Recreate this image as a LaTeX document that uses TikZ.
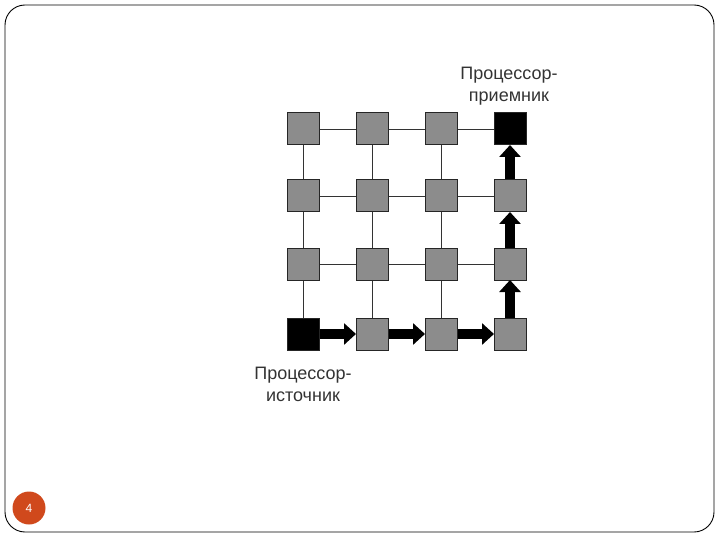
\documentclass[tikz,border=0pt]{standalone}
\usepackage{fontspec}
\setmainfont{Liberation Sans}
\usetikzlibrary{arrows.meta}
\definecolor{nodegray}{HTML}{8C8C8C}
\definecolor{pagenum}{HTML}{D0491C}
\definecolor{labelgray}{HTML}{333333}
\begin{document}
\begin{tikzpicture}[x=1pt,y=-1pt,
  cell/.style={draw=black!85,line width=1pt,fill=nodegray,minimum size=32pt,inner sep=0pt},
  endcell/.style={cell,fill=black},
  link/.style={draw=black!80,line width=0.8pt},
  route/.style={line width=10pt,-{Triangle[length=12pt,width=21pt]},shorten >=-0.5pt},
  lbl/.style={font=\fontsize{18}{22}\selectfont,text=labelgray,align=center,inner sep=0pt}]
\useasboundingbox (0,0) rectangle (720,540);
\draw[line width=0.9pt,rounded corners=20pt] (5,5) rectangle (714,532);
% grid
\foreach \c/\x in {1/303,2/372,3/441,4/510}{
  \foreach \r/\y in {1/129,2/196,3/264,4/334}{
    \node[cell] (n\c\r) at (\x,\y) {};
  }
}
\node[endcell] at (n14) {};
\node[endcell] at (n41) {};
% thin links
\foreach \r in {1,2,3}{
  \draw[link] (n1\r) -- (n2\r);
  \draw[link] (n2\r) -- (n3\r);
  \draw[link] (n3\r) -- (n4\r);
}
\foreach \c in {1,2,3}{
  \draw[link] (n\c1) -- (n\c2);
  \draw[link] (n\c2) -- (n\c3);
  \draw[link] (n\c3) -- (n\c4);
}
% route arrows
\draw[route] (n14.east) -- (n24.west);
\draw[route] (n24.east) -- (n34.west);
\draw[route] (n34.east) -- (n44.west);
\draw[route] (n44.north) -- (n43.south);
\draw[route] (n43.north) -- (n42.south);
\draw[route] (n42.north) -- (n41.south);
% labels
\node[lbl] (dst) at (509,86) {Процессор-\\приемник};
\node[lbl] (src) at (303,384) {Процессор-\\источник};
% page number
\node[circle,fill=pagenum,minimum size=33pt,inner sep=0pt,text=white,font=\fontsize{12}{14}\selectfont] (pg) at (29,508) {4};
\end{tikzpicture}
\end{document}
